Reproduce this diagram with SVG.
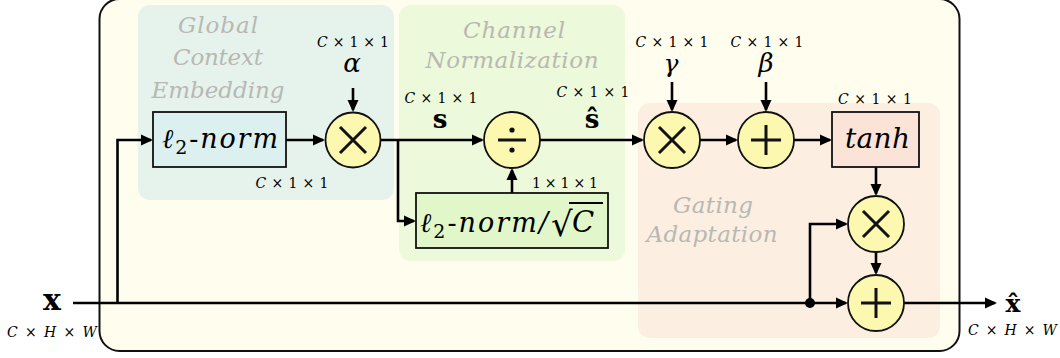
<svg xmlns="http://www.w3.org/2000/svg" width="1060" height="358" viewBox="0 0 1060 358" font-family="DejaVu Serif">
<defs>
<style>
text{font-family:DejaVu Serif}
.region{stroke:none}
.rlabel{font-style:italic;font-size:23px;fill:#b8b8b3;text-anchor:middle}
.box{stroke:#111;stroke-width:1.8}
.op{fill:#fdf8b0;stroke:#111;stroke-width:1.8}
.sym{stroke:#111;stroke-width:3;stroke-linecap:butt;fill:none}
.conn{stroke:#000;stroke-width:2.6;fill:none}
.dim{font-size:14px;fill:#000}
.it{font-style:italic}
.math{font-style:italic;fill:#000}
.bold{font-weight:bold;fill:#000}
</style>
<marker id="arr" markerUnits="userSpaceOnUse" markerWidth="14" markerHeight="12" refX="10" refY="6" orient="auto">
<path d="M0,0.5 L12,6 L0,11.5 z" fill="#000"/>
</marker>
</defs>
<rect x="99.5" y="-1" width="860" height="352" rx="20" fill="#fffdee" stroke="#111" stroke-width="2"/>
<g id="region-global"><rect class="region" x="138" y="5" width="256" height="195" rx="12" fill="#e6f3ec"/>
<text class="rlabel" x="218" y="33" textLength="80" lengthAdjust="spacing">Global</text><text class="rlabel" x="218" y="65" textLength="90" lengthAdjust="spacing">Context</text><text class="rlabel" x="218" y="98" textLength="133" lengthAdjust="spacing">Embedding</text></g>
<g id="region-channel"><rect class="region" x="399" y="5" width="226" height="256" rx="12" fill="#ecf9da"/>
<text class="rlabel" x="514" y="38" textLength="102" lengthAdjust="spacing">Channel</text><text class="rlabel" x="512" y="68" textLength="173" lengthAdjust="spacing">Normalization</text></g>
<g id="region-gating"><rect class="region" x="638" y="103" width="302" height="235" rx="12" fill="#fcefe2"/>
<text class="rlabel" x="713" y="213" textLength="80" lengthAdjust="spacing">Gating</text><text class="rlabel" x="712" y="242" textLength="131" lengthAdjust="spacing">Adaptation</text></g>

<g id="connectors">
<polyline class="conn" points="73,303 846,303" marker-end="url(#arr)"/>
<polyline class="conn" points="117.5,303 117.5,140 151,140" marker-end="url(#arr)"/>
<polyline class="conn" points="286,140 323,140" marker-end="url(#arr)"/>
<polyline class="conn" points="381,140 482,140" marker-end="url(#arr)"/>
<polyline class="conn" points="398,140 398,221 414,221" marker-end="url(#arr)"/>
<polyline class="conn" points="512,193 512,170" marker-end="url(#arr)"/>
<polyline class="conn" points="540,140 642,140" marker-end="url(#arr)"/>
<polyline class="conn" points="700,140 736,140" marker-end="url(#arr)"/>
<polyline class="conn" points="794,140 830,140" marker-end="url(#arr)"/>
<polyline class="conn" points="876,167 876,194" marker-end="url(#arr)"/>
<polyline class="conn" points="876,252 876,273" marker-end="url(#arr)"/>
<polyline class="conn" points="810,303 810,224 846,224" marker-end="url(#arr)"/>
<polyline class="conn" points="904,303 995,303" marker-end="url(#arr)"/>
<polyline class="conn" points="353,88 353,110" marker-end="url(#arr)"/>
<polyline class="conn" points="672,82 672,110" marker-end="url(#arr)"/>
<polyline class="conn" points="766,82 766,110" marker-end="url(#arr)"/>
<circle cx="810" cy="303" r="5" fill="#000"/>
</g>

<g id="input-x">
<text class="bold" x="52" y="310" font-size="30" text-anchor="middle">x</text>
<text class="dim it" x="7" y="337" font-size="16" textLength="90" lengthAdjust="spacing">C × H × W</text>
</g>

<g id="node-l2norm">
<rect class="box" x="153" y="112" width="133" height="55" fill="#dcf0f0"/>
<text class="math" x="162" y="148" font-size="27" textLength="116" lengthAdjust="spacing">ℓ<tspan font-size="19" font-style="normal" dy="6">2</tspan><tspan dy="-6" font-style="normal">-</tspan>norm</text>
<text class="dim" x="292" y="188" text-anchor="middle" textLength="73" lengthAdjust="spacing"><tspan class="it">C</tspan> × 1 × 1</text>
</g>

<g id="node-mul1">
<circle class="op" cx="353" cy="140" r="27.5"/>
<path class="sym" d="M340,127 L366,153 M366,127 L340,153"/>
<text class="dim" x="353" y="47" text-anchor="middle" textLength="72" lengthAdjust="spacing"><tspan class="it">C</tspan> × 1 × 1</text>
<text class="math" x="352" y="72" font-size="26" text-anchor="middle">α</text>
</g>

<g id="node-div">
<circle class="op" cx="512" cy="140" r="28"/>
<path class="sym" d="M498,140 L526,140"/>
<circle cx="512" cy="130" r="2.6" fill="#111"/>
<circle cx="512" cy="150" r="2.6" fill="#111"/>
<text class="dim" x="441" y="103" text-anchor="middle" textLength="73" lengthAdjust="spacing"><tspan class="it">C</tspan> × 1 × 1</text>
<text class="bold" x="440" y="128" font-size="26" text-anchor="middle">s</text>
<text class="dim" x="593" y="97" text-anchor="middle" textLength="73" lengthAdjust="spacing"><tspan class="it">C</tspan> × 1 × 1</text>
<text class="bold" x="592" y="128" font-size="26" text-anchor="middle">ŝ</text>
</g>

<g id="node-l2norm-sqrt">
<rect class="box" x="416" y="193" width="192" height="55" fill="#e1f7c9"/>
<text class="math" x="420" y="232" font-size="27" textLength="128" lengthAdjust="spacing">ℓ<tspan font-size="19" font-style="normal" dy="6">2</tspan><tspan dy="-6" font-style="normal">-</tspan>norm/</text>
<text x="551" y="236" font-size="34" fill="#000">√</text>
<line x1="569" y1="203" x2="603" y2="203" stroke="#000" stroke-width="1.8"/>
<text class="math" x="572" y="232" font-size="29">C</text>
<text class="dim" x="565" y="188" text-anchor="middle" textLength="66" lengthAdjust="spacing">1 × 1 × 1</text>
</g>

<g id="node-mul2">
<circle class="op" cx="672" cy="140" r="28"/>
<path class="sym" d="M659,127 L685,153 M685,127 L659,153"/>
<text class="dim" x="672" y="47" text-anchor="middle" textLength="73" lengthAdjust="spacing"><tspan class="it">C</tspan> × 1 × 1</text>
<text class="math" x="671" y="72" font-size="25" text-anchor="middle">γ</text>
</g>

<g id="node-add1">
<circle class="op" cx="766" cy="140" r="28"/>
<path class="sym" d="M751,140 L781,140 M766,125 L766,155"/>
<text class="dim" x="767" y="47" text-anchor="middle" textLength="73" lengthAdjust="spacing"><tspan class="it">C</tspan> × 1 × 1</text>
<text class="math" x="766" y="72" font-size="26" text-anchor="middle">β</text>
</g>

<g id="node-tanh">
<rect class="box" x="832" y="112" width="87" height="55" fill="#fbe3d7"/>
<text class="math" x="845" y="148" font-size="28" textLength="65" lengthAdjust="spacing">tanh</text>
<text class="dim" x="875" y="104" text-anchor="middle" textLength="74" lengthAdjust="spacing"><tspan class="it">C</tspan> × 1 × 1</text>
</g>

<g id="node-mul3">
<circle class="op" cx="876" cy="224" r="28"/>
<path class="sym" d="M863,211 L889,237 M889,211 L863,237"/>
</g>

<g id="node-add2">
<circle class="op" cx="876" cy="303" r="28"/>
<path class="sym" d="M861,303 L891,303 M876,288 L876,318"/>
</g>

<g id="output-xhat">
<text class="bold" x="1013" y="312" font-size="25" text-anchor="middle">x̂</text>
<text class="dim it" x="968" y="335" font-size="16" textLength="89" lengthAdjust="spacing">C × H × W</text>
</g>
</svg>
